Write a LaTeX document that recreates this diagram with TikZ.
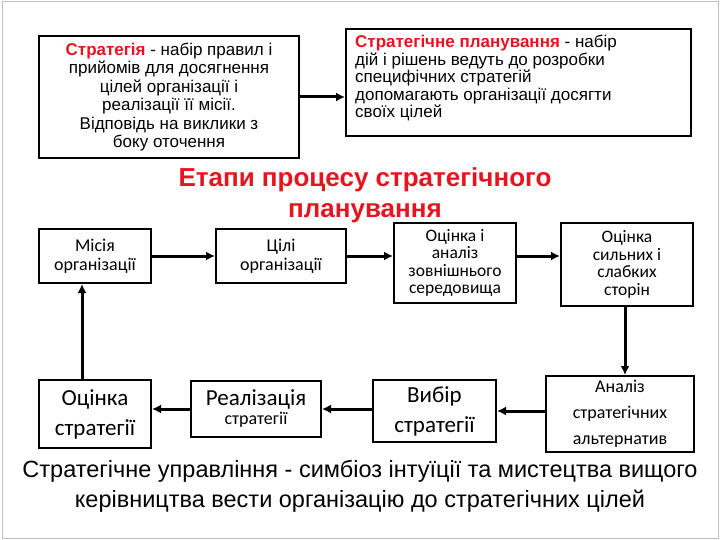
\documentclass[tikz,border=0pt]{standalone}
\usepackage{fontspec}
\usetikzlibrary{arrows.meta}
\setmainfont{Liberation Sans}
\newfontfamily\carl{Carlito}
\definecolor{tred}{RGB}{230,20,30}
\begin{document}
\begin{tikzpicture}[x=1pt,y=-1pt,
  sb/.style={draw,line width=2pt,align=center,inner sep=0pt,font=\carl\fontsize{18}{19}\selectfont},
  big/.style={draw,line width=2pt,inner sep=0pt},
  ar/.style={line width=3pt,-{Latex[length=9pt,width=9pt]}}]
\useasboundingbox (0,0) rectangle (720,540);
\draw[gray!50,line width=1pt] (2,2) rectangle (718,538);
% top boxes
\node[big,minimum width=260,minimum height=122,anchor=north west] (s) at (38,35) {};
\node[align=center,font=\fontsize{17}{18.5}\selectfont] at (s.center) {\textcolor{tred}{\textbf{Стратегія}} - набір правил і\\прийомів для досягнення\\цілей організації і\\реалізації її місії.\\Відповідь на виклики з\\боку оточення};
\node[big,minimum width=345,minimum height=107,anchor=north west] (p) at (345,28) {};
\node[align=left,anchor=north west,inner sep=0pt,font=\fontsize{17}{17.5}\selectfont] at (355,35) {\textcolor{tred}{\textbf{Стратегічне планування}} - набір\\дій і рішень ведуть до розробки\\специфічних стратегій\\допомагають організації досягти\\своїх цілей};
\draw[ar] (s.east) -- (p.west |- s.east);
\node[align=center,text=tred,font=\bfseries\fontsize{26}{31}\selectfont] (t) at (365,195) {Етапи процесу стратегічного\\планування};
% stage boxes
\node[sb,minimum width=112,minimum height=54,anchor=north west] (m) at (38,228) {Місія\\організації};
\node[sb,minimum width=130,minimum height=54,anchor=north west] (c) at (215,228) {Цілі\\організації};
\node[sb,minimum width=122,minimum height=80,anchor=north west,font=\carl\fontsize{17.5}{17.5}\selectfont] (o) at (393,222) {Оцінка і\\аналіз\\зовнішнього\\середовища};
\node[sb,minimum width=132,minimum height=83,anchor=north west,font=\carl\fontsize{17.5}{17.5}\selectfont] (w) at (560,222) {Оцінка\\сильних і\\слабких\\сторін};
\node[sb,minimum width=148,minimum height=76,anchor=north west,font=\carl\fontsize{18}{26}\selectfont] (a) at (545,375) {Аналіз\\стратегічних\\альтернатив};
\node[sb,minimum width=123,minimum height=62,anchor=north west,font=\carl\fontsize{23}{30}\selectfont] (v) at (372,379) {Вибір\\стратегії};
\node[sb,minimum width=130,minimum height=56,anchor=north west] (r) at (190,380) {\fontsize{23}{26}\selectfont Реалізація\\ \fontsize{18}{20}\selectfont стратегії};
\node[sb,minimum width=112,minimum height=68,anchor=north west,font=\carl\fontsize{23}{30}\selectfont] (e) at (38,379) {Оцінка\\стратегії};
\draw[ar] (m) -- (c);
\draw[ar] (c) -- (o.west |- c);
\draw[ar] (o.east |- c) -- (w.west |- c);
\draw[ar] (w.south -| 625,0) -- (a.north -| 625,0);
\draw[ar] (a.west |- v) -- (v);
\draw[ar] (v.west |- r) -- (r);
\draw[ar] (r.west) -- (e.east |- r.west);
\draw[ar] (e.north -| 82,0) -- (m.south -| 82,0);
\node[align=center,font=\fontsize{23.5}{30}\selectfont] (b) at (360,486) {Стратегічне управління - симбіоз інтуїції та мистецтва вищого\\керівництва вести організацію до стратегічних цілей};
\end{tikzpicture}
\end{document}
